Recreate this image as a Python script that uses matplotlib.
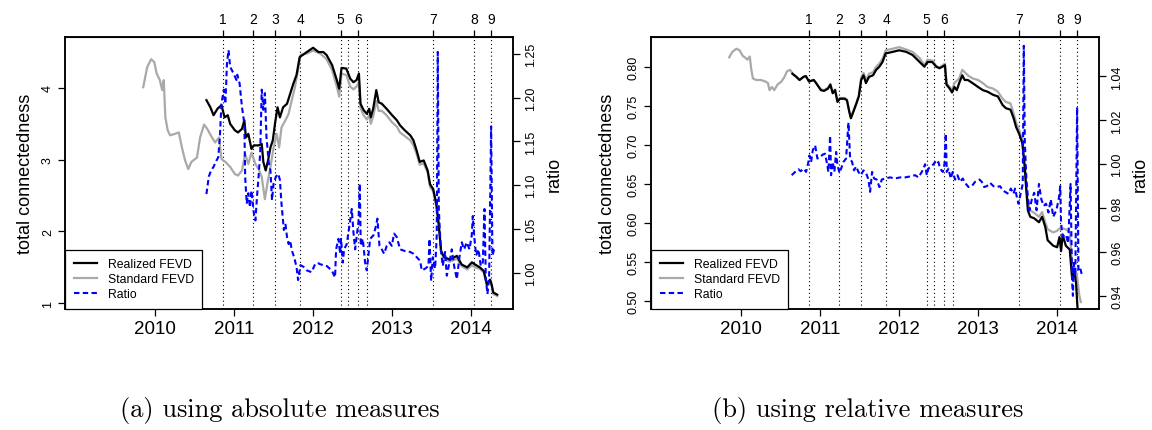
import matplotlib
matplotlib.use("Agg")
import matplotlib.pyplot as plt

# ── event markers (vertical dotted lines, numbered on top axis) ─────────────
event_dates = [2010.86, 2011.24, 2011.52, 2011.84, 2012.35, 2012.44,
               2012.57, 2012.68, 2013.52, 2014.04, 2014.25]
event_labels = ["1", "2", "3", "4", "5", "", "6", "", "7", "8", "9"]

# ── (a) absolute measures ──────────────────────────────────────────────────
std_abs_dates = [
    2009.85, 2009.90, 2009.95, 2009.99, 2010.02, 2010.06, 2010.09, 2010.11,
    2010.13, 2010.16, 2010.19, 2010.25, 2010.30, 2010.34, 2010.38, 2010.42,
    2010.46, 2010.53, 2010.57, 2010.62, 2010.66, 2010.72, 2010.76, 2010.81,
    2010.84, 2010.89, 2010.95, 2011.01, 2011.05, 2011.10, 2011.14, 2011.18,
    2011.22, 2011.27, 2011.31, 2011.35, 2011.39, 2011.42, 2011.46, 2011.50,
    2011.54, 2011.57, 2011.60, 2011.65, 2011.69, 2011.73, 2011.77, 2011.81,
    2011.84, 2011.92, 2012.00, 2012.09, 2012.17, 2012.24, 2012.30, 2012.33,
    2012.36, 2012.42, 2012.47, 2012.51, 2012.55, 2012.58, 2012.60, 2012.64,
    2012.68, 2012.71, 2012.73, 2012.76, 2012.80, 2012.83, 2012.87, 2012.93,
    2013.00, 2013.06, 2013.10, 2013.16, 2013.23, 2013.27, 2013.31, 2013.35,
    2013.40, 2013.45, 2013.48, 2013.52, 2013.56, 2013.59, 2013.62, 2013.66,
    2013.73, 2013.82, 2013.88, 2013.95, 2014.01, 2014.05, 2014.11, 2014.16,
    2014.20, 2014.24, 2014.26, 2014.28, 2014.33]
std_abs = [
    4.01, 4.29, 4.40, 4.36, 4.20, 4.11, 3.97, 4.11,
    3.59, 3.41, 3.34, 3.36, 3.38, 3.17, 2.99, 2.87,
    2.97, 3.03, 3.31, 3.49, 3.43, 3.31, 3.24, 3.31,
    3.01, 2.97, 2.90, 2.80, 2.78, 2.85, 3.08, 2.94,
    3.10, 2.94, 2.87, 2.76, 2.45, 2.66, 2.90, 3.17,
    3.36, 3.17, 3.45, 3.55, 3.64, 3.83, 4.01, 4.25,
    4.46, 4.48, 4.52, 4.48, 4.40, 4.25, 4.02, 3.88,
    4.20, 4.18, 4.02, 3.98, 4.02, 4.08, 3.72, 3.62,
    3.56, 3.62, 3.50, 3.60, 3.82, 3.68, 3.68, 3.62,
    3.52, 3.46, 3.38, 3.33, 3.27, 3.20, 3.08, 2.93,
    2.95, 2.82, 2.62, 2.56, 2.35, 2.08, 1.71, 1.61,
    1.58, 1.62, 1.52, 1.47, 1.53, 1.50, 1.48, 1.43,
    1.24, 1.30, 1.24, 1.13, 1.10]

real_abs_dates = [
    2010.65, 2010.70, 2010.74, 2010.79, 2010.84, 2010.88, 2010.92, 2010.95,
    2011.01, 2011.05, 2011.10, 2011.13, 2011.15, 2011.18, 2011.22, 2011.25,
    2011.31, 2011.35, 2011.37, 2011.40, 2011.43, 2011.46, 2011.49, 2011.52,
    2011.55, 2011.58, 2011.62, 2011.67, 2011.71, 2011.75, 2011.79, 2011.83,
    2011.92, 2012.00, 2012.07, 2012.13, 2012.17, 2012.24, 2012.30, 2012.33,
    2012.36, 2012.42, 2012.47, 2012.51, 2012.55, 2012.58, 2012.60, 2012.64,
    2012.68, 2012.71, 2012.73, 2012.76, 2012.80, 2012.83, 2012.87, 2012.93,
    2013.00, 2013.06, 2013.10, 2013.16, 2013.23, 2013.27, 2013.31, 2013.35,
    2013.40, 2013.45, 2013.48, 2013.52, 2013.56, 2013.59, 2013.62, 2013.66,
    2013.73, 2013.82, 2013.88, 2013.95, 2014.01, 2014.05, 2014.11, 2014.16,
    2014.20, 2014.24, 2014.26, 2014.28, 2014.33]
real_abs = [
    3.83, 3.73, 3.62, 3.71, 3.76, 3.59, 3.62, 3.50,
    3.41, 3.38, 3.43, 3.55, 3.31, 3.36, 3.15, 3.20,
    3.20, 3.22, 2.97, 2.85, 2.99, 3.17, 3.27, 3.52,
    3.73, 3.59, 3.73, 3.78, 3.92, 4.06, 4.18, 4.43,
    4.50, 4.56, 4.50, 4.50, 4.46, 4.32, 4.11, 3.99,
    4.28, 4.27, 4.13, 4.08, 4.11, 4.20, 3.78, 3.69,
    3.64, 3.71, 3.59, 3.71, 3.97, 3.80, 3.78, 3.71,
    3.62, 3.55, 3.48, 3.41, 3.34, 3.27, 3.13, 2.97,
    2.99, 2.85, 2.66, 2.59, 2.38, 2.10, 1.73, 1.64,
    1.61, 1.66, 1.54, 1.50, 1.57, 1.54, 1.50, 1.45,
    1.26, 1.33, 1.26, 1.15, 1.12]

ratio_abs_dates = [
    2010.65, 2010.68, 2010.71, 2010.74, 2010.77, 2010.80, 2010.82, 2010.84,
    2010.87, 2010.89, 2010.91, 2010.93, 2010.95, 2010.99, 2011.03, 2011.04,
    2011.07, 2011.10, 2011.13, 2011.14, 2011.16, 2011.18, 2011.20, 2011.22,
    2011.25, 2011.27, 2011.29, 2011.31, 2011.33, 2011.35, 2011.37, 2011.39,
    2011.41, 2011.44, 2011.46, 2011.48, 2011.50, 2011.53, 2011.56, 2011.58,
    2011.60, 2011.63, 2011.65, 2011.67, 2011.69, 2011.71, 2011.73, 2011.76,
    2011.79, 2011.81, 2011.84, 2011.88, 2011.92, 2011.98, 2012.03, 2012.07,
    2012.089, 2012.173, 2012.236, 2012.278, 2012.291, 2012.321, 2012.342,
    2012.354, 2012.376, 2012.392, 2012.426, 2012.460, 2012.489, 2012.511,
    2012.532, 2012.553, 2012.574, 2012.591, 2012.603, 2012.629, 2012.658,
    2012.679, 2012.700, 2012.722, 2012.764, 2012.797, 2012.814, 2012.840,
    2012.869, 2012.899, 2012.932, 2012.966, 2012.996, 2013.025, 2013.059,
    2013.101, 2013.165, 2013.228, 2013.270, 2013.312, 2013.354, 2013.376,
    2013.418, 2013.460, 2013.473, 2013.494, 2013.515, 2013.544, 2013.565,
    2013.578, 2013.591, 2013.616, 2013.641, 2013.671, 2013.692, 2013.726,
    2013.755, 2013.785, 2013.819, 2013.852, 2013.882, 2013.911, 2013.945,
    2013.979, 2014.008, 2014.021, 2014.038, 2014.063, 2014.093, 2014.122,
    2014.148, 2014.169, 2014.186, 2014.207, 2014.228, 2014.253, 2014.270,
    2014.291, 2014.308]
ratio_abs = [
    1.090, 1.110, 1.117, 1.121, 1.127, 1.132, 1.155, 1.193,
    1.209, 1.193, 1.239, 1.254, 1.235, 1.228, 1.220, 1.226,
    1.216, 1.189, 1.170, 1.110, 1.079, 1.091, 1.075, 1.094,
    1.068, 1.060, 1.087, 1.110, 1.136, 1.209, 1.186, 1.205,
    1.155, 1.125, 1.117, 1.083, 1.102, 1.110, 1.113, 1.106,
    1.079, 1.049, 1.056, 1.041, 1.033, 1.037, 1.026, 1.018,
    1.007, 0.992, 1.009, 1.007, 1.003, 1.001, 1.011, 1.011,
    1.010, 1.008, 1.003, 0.995, 1.027, 1.039, 1.022,
    1.039, 1.012, 1.027, 1.033, 1.054, 1.073, 1.046,
    1.027, 1.043, 1.058, 1.102, 1.031, 1.039, 1.012,
    1.003, 1.020, 1.039, 1.043, 1.054, 1.062, 1.031,
    1.027, 1.022, 1.031, 1.035, 1.031, 1.045, 1.041,
    1.027, 1.025, 1.024, 1.022, 1.018, 1.014, 1.003,
    1.005, 1.008, 1.039, 0.991, 1.018, 1.005, 1.043,
    1.252, 1.073, 1.027, 1.008, 1.024, 0.997, 1.012,
    1.027, 1.008, 0.993, 1.018, 1.035, 1.027, 1.035,
    1.027, 1.043, 1.065, 1.043, 1.020, 1.027, 1.008,
    1.012, 1.073, 0.993, 0.976, 0.997, 1.167, 1.020,
    1.027, 1.027]

# ── (b) relative measures ──────────────────────────────────────────────────
std_rel_dates = [
    2009.85, 2009.89, 2009.94, 2009.98, 2010.02, 2010.06, 2010.08, 2010.11,
    2010.13, 2010.15, 2010.19, 2010.25, 2010.31, 2010.34, 2010.36, 2010.39,
    2010.42, 2010.46, 2010.51, 2010.55, 2010.58, 2010.62, 2010.66, 2010.70,
    2010.74, 2010.79, 2010.82, 2010.86, 2010.92, 2010.95, 2011.01, 2011.05,
    2011.10, 2011.13, 2011.16, 2011.19, 2011.22, 2011.25, 2011.31, 2011.34,
    2011.37, 2011.39, 2011.42, 2011.46, 2011.49, 2011.52, 2011.55, 2011.58,
    2011.62, 2011.67, 2011.71, 2011.75, 2011.79, 2011.83, 2011.92, 2012.00,
    2012.09, 2012.17, 2012.26, 2012.32, 2012.36, 2012.42, 2012.47, 2012.51,
    2012.58, 2012.60, 2012.64, 2012.67, 2012.70, 2012.76, 2012.80, 2012.87,
    2012.93, 2013.00, 2013.06, 2013.12, 2013.19, 2013.25, 2013.31, 2013.35,
    2013.41, 2013.45, 2013.48, 2013.52, 2013.56, 2013.59, 2013.61, 2013.63,
    2013.66, 2013.71, 2013.77, 2013.81, 2013.85, 2013.88, 2013.95, 2014.00,
    2014.03, 2014.07, 2014.11, 2014.16, 2014.19, 2014.22, 2014.25, 2014.28,
    2014.30]
std_rel = [
    0.812, 0.819, 0.823, 0.821, 0.814, 0.811, 0.809, 0.813,
    0.796, 0.785, 0.783, 0.783, 0.781, 0.779, 0.770, 0.774,
    0.770, 0.777, 0.781, 0.787, 0.794, 0.796, 0.790, 0.787,
    0.783, 0.787, 0.788, 0.781, 0.783, 0.779, 0.771, 0.770,
    0.773, 0.778, 0.767, 0.771, 0.756, 0.760, 0.760, 0.758,
    0.743, 0.736, 0.743, 0.754, 0.763, 0.786, 0.792, 0.783,
    0.791, 0.793, 0.800, 0.804, 0.810, 0.821, 0.823, 0.825,
    0.822, 0.819, 0.811, 0.802, 0.809, 0.808, 0.801, 0.799,
    0.804, 0.779, 0.774, 0.770, 0.779, 0.785, 0.796, 0.789,
    0.785, 0.783, 0.779, 0.774, 0.772, 0.768, 0.759, 0.755,
    0.753, 0.740, 0.729, 0.719, 0.706, 0.672, 0.647, 0.626,
    0.616, 0.613, 0.608, 0.614, 0.601, 0.592, 0.588, 0.590,
    0.593, 0.593, 0.592, 0.588, 0.547, 0.542, 0.534, 0.508,
    0.499]

real_rel_dates = [
    2010.65, 2010.70, 2010.74, 2010.79, 2010.82, 2010.86, 2010.92, 2010.95,
    2011.01, 2011.05, 2011.10, 2011.13, 2011.16, 2011.19, 2011.22, 2011.25,
    2011.31, 2011.34, 2011.37, 2011.39, 2011.42, 2011.46, 2011.49, 2011.52,
    2011.55, 2011.58, 2011.62, 2011.67, 2011.71, 2011.75, 2011.79, 2011.83,
    2011.92, 2012.00, 2012.09, 2012.17, 2012.26, 2012.32, 2012.36, 2012.42,
    2012.47, 2012.51, 2012.55, 2012.58, 2012.60, 2012.64, 2012.67, 2012.70,
    2012.73, 2012.76, 2012.80, 2012.83, 2012.87, 2012.93, 2013.00, 2013.06,
    2013.12, 2013.19, 2013.25, 2013.31, 2013.35, 2013.41, 2013.45, 2013.48,
    2013.52, 2013.56, 2013.59, 2013.61, 2013.63, 2013.66, 2013.71, 2013.77,
    2013.81, 2013.85, 2013.88, 2013.95, 2014.00, 2014.03, 2014.05, 2014.07,
    2014.11, 2014.16, 2014.19, 2014.22, 2014.24, 2014.26]
real_rel = [
    0.791, 0.787, 0.783, 0.787, 0.788, 0.781, 0.783, 0.779,
    0.770, 0.769, 0.772, 0.777, 0.766, 0.770, 0.755, 0.759,
    0.759, 0.757, 0.742, 0.734, 0.742, 0.753, 0.762, 0.783,
    0.789, 0.779, 0.787, 0.789, 0.796, 0.800, 0.806, 0.817,
    0.819, 0.821, 0.819, 0.815, 0.806, 0.800, 0.806, 0.806,
    0.800, 0.798, 0.800, 0.802, 0.777, 0.772, 0.767, 0.774,
    0.770, 0.779, 0.789, 0.783, 0.783, 0.779, 0.774, 0.770,
    0.768, 0.764, 0.762, 0.751, 0.747, 0.745, 0.734, 0.723,
    0.714, 0.702, 0.672, 0.642, 0.616, 0.608, 0.606, 0.601,
    0.608, 0.595, 0.578, 0.571, 0.569, 0.582, 0.564, 0.585,
    0.571, 0.566, 0.529, 0.538, 0.522, 0.488]

ratio_rel_dates = [
    2010.641, 2010.684, 2010.726, 2010.755, 2010.789, 2010.823, 2010.852,
    2010.865, 2010.886, 2010.907, 2010.937, 2010.966, 2011.000, 2011.034,
    2011.063, 2011.084, 2011.105, 2011.127, 2011.139, 2011.160, 2011.181,
    2011.203, 2011.219, 2011.245, 2011.266, 2011.295, 2011.329, 2011.359,
    2011.380, 2011.405, 2011.430, 2011.456, 2011.485, 2011.515, 2011.549,
    2011.582, 2011.612, 2011.633, 2011.658, 2011.684, 2011.717, 2011.751,
    2011.781, 2011.823, 2011.886, 2011.949, 2012.013, 2012.076, 2012.148,
    2012.203, 2012.245, 2012.287, 2012.308, 2012.329, 2012.350, 2012.371,
    2012.401, 2012.435, 2012.456, 2012.477, 2012.498, 2012.519, 2012.553,
    2012.574, 2012.591, 2012.603, 2012.624, 2012.654, 2012.679, 2012.709,
    2012.738, 2012.772, 2012.806, 2012.835, 2012.878, 2012.920, 2012.962,
    2013.017, 2013.046, 2013.076, 2013.110, 2013.152, 2013.194, 2013.236,
    2013.278, 2013.312, 2013.342, 2013.384, 2013.414, 2013.447, 2013.468,
    2013.490, 2013.511, 2013.540, 2013.565, 2013.578, 2013.591, 2013.610,
    2013.630, 2013.650, 2013.680, 2013.710, 2013.740, 2013.770, 2013.800,
    2013.830, 2013.860, 2013.890, 2013.920, 2013.950, 2013.990, 2014.020,
    2014.040, 2014.050, 2014.070, 2014.110, 2014.140, 2014.170, 2014.190,
    2014.200, 2014.210, 2014.230, 2014.253, 2014.270, 2014.290, 2014.310]
ratio_rel = [
    0.9950, 0.9965, 0.9977, 0.9968, 0.9980, 0.9965, 1.0010,
    1.0040, 1.0010, 1.0063, 1.0086, 1.0026, 1.0033, 1.0044,
    1.0048, 1.0010, 0.9965, 1.0130, 0.9950, 1.0010, 0.9965,
    1.0056, 1.0000, 0.9960, 0.9980, 1.0010, 1.0026, 1.0190,
    1.0026, 1.0010, 0.9972, 0.9990, 0.9965, 0.9950, 0.9972,
    0.9960, 0.9930, 0.9874, 0.9965, 0.9935, 0.9930, 0.9896,
    0.9930, 0.9935, 0.9940, 0.9935, 0.9940, 0.9940, 0.9945,
    0.9950, 0.9940, 0.9965, 0.9980, 1.0000, 0.9950, 0.9980,
    0.9990, 1.0000, 1.0010, 1.0000, 1.0010, 0.9980, 0.9965,
    1.0000, 1.0140, 0.9965, 0.9980, 0.9935, 0.9965, 0.9930,
    0.9950, 0.9920, 0.9935, 0.9915, 0.9896, 0.9900, 0.9920,
    0.9930, 0.9920, 0.9896, 0.9900, 0.9915, 0.9900, 0.9896,
    0.9900, 0.9881, 0.9874, 0.9865, 0.9889, 0.9865, 0.9889,
    0.9851, 0.9820, 0.9870, 0.9910, 1.0540, 1.0100, 0.9940,
    0.9850, 0.9790, 0.9840, 0.9870, 0.9790, 0.9910, 0.9840,
    0.9810, 0.9820, 0.9780, 0.9840, 0.9760, 0.9790, 0.9840,
    0.9900, 0.9730, 0.9670, 0.9680, 0.9640, 0.9910, 0.9460,
    0.9400, 0.9550, 0.9490, 1.0260, 0.9520, 0.9530, 0.9500]

year_ticks = [2010, 2011, 2012, 2013, 2014]
SANS = ["Liberation Sans", "DejaVu Sans"]
GREY = "#A9A9A9"
BLUE = "#0000FF"


def _draw_panel(ax, std_d, std_v, real_d, real_v, ratio_d, ratio_v,
                ylim, yticks, yfmt, rlim, rticks, rfmt, ylab_x):
    ax.set_xlim(2008.86, 2014.53)
    ax.set_ylim(*ylim)

    for d in event_dates:
        ax.axvline(d, color="black", lw=0.8, ls=(0, (1, 2.5)), zorder=1)

    ax.plot(std_d, std_v, color=GREY, lw=1.6, zorder=2)
    ax.plot(real_d, real_v, color="black", lw=1.6, zorder=3)

    ax2 = ax.twinx()
    ax2.set_ylim(*rlim)
    ax2.plot(ratio_d, ratio_v, color=BLUE, lw=1.5, dashes=(2.6, 1.6), zorder=4)

    for a in (ax, ax2):
        for sp in a.spines.values():
            sp.set_linewidth(1.1)

    ax.set_xticks(year_ticks)
    ax.set_xticklabels([str(y) for y in year_ticks], fontsize=13.5, family=SANS)
    ax.tick_params(axis="x", direction="out", length=5, width=0.9, pad=3)

    ax.set_yticks(yticks)
    ax.set_yticklabels([yfmt.format(v) for v in yticks], fontsize=9,
                       family=SANS, rotation=90, va="center")
    ax.tick_params(axis="y", direction="out", length=5, width=0.9, pad=3)

    ax2.set_yticks(rticks)
    ax2.set_yticklabels([rfmt.format(v) for v in rticks], fontsize=9,
                        family=SANS, rotation=90, va="center")
    ax2.tick_params(axis="y", direction="out", length=5, width=0.9, pad=4)

    ax.set_ylabel("total connectedness", fontsize=13, family=SANS)
    ax.yaxis.set_label_coords(ylab_x, 0.5)
    ax2.set_ylabel("ratio", fontsize=13, family=SANS, rotation=90)
    ax2.yaxis.set_label_coords(1.072, 0.5)

    # numbered events on the top axis
    top = ax.secondary_xaxis("top")
    lab_pos = [d for d, l in zip(event_dates, event_labels) if l]
    top.set_xticks(lab_pos)
    top.set_xticklabels([l for l in event_labels if l], fontsize=10, family=SANS)
    top.tick_params(direction="out", length=5, width=0.9, pad=3)

    h = [plt.Line2D([], [], color="black", lw=1.6),
         plt.Line2D([], [], color=GREY, lw=1.6),
         plt.Line2D([], [], color=BLUE, lw=1.5, dashes=(2.6, 1.6))]
    leg = ax2.legend(h, ["Realized FEVD", "Standard FEVD", "Ratio"],
                     loc="lower left", bbox_to_anchor=(0, 0), borderaxespad=0,
                     fancybox=False, framealpha=1, edgecolor="black",
                     prop={"family": SANS, "size": 8.8}, handlelength=1.9,
                     handletextpad=0.9, labelspacing=0.25, borderpad=0.7)
    leg.get_frame().set_linewidth(0.9)
    leg.set_zorder(10)
    return ax2


fig = plt.figure(figsize=(11.52, 4.31), dpi=100)
ax_a = fig.add_axes([65 / 1152, 121 / 431, 448 / 1152, 272 / 431])
ax_b = fig.add_axes([651 / 1152, 121 / 431, 448 / 1152, 272 / 431])

_draw_panel(ax_a, std_abs_dates, std_abs, real_abs_dates, real_abs,
            ratio_abs_dates, ratio_abs,
            (0.92, 4.71), [1, 2, 3, 4], "{:d}",
            (0.959, 1.269), [1.00, 1.05, 1.10, 1.15, 1.20, 1.25], "{:.2f}",
            -0.069)
_draw_panel(ax_b, std_rel_dates, std_rel, real_rel_dates, real_rel,
            ratio_rel_dates, ratio_rel,
            (0.49, 0.838), [0.50, 0.55, 0.60, 0.65, 0.70, 0.75, 0.80], "{:.2f}",
            (0.934, 1.058), [0.94, 0.96, 0.98, 1.00, 1.02, 1.04], "{:.2f}",
            -0.078)

fig.text(280 / 1152, 1 - 411 / 431, "(a) using absolute measures",
         ha="center", va="center", fontsize=19, family="cmr10")
fig.text(868 / 1152, 1 - 411 / 431, "(b) using relative measures",
         ha="center", va="center", fontsize=19, family="cmr10")

fig.savefig("out.png", dpi=100)
